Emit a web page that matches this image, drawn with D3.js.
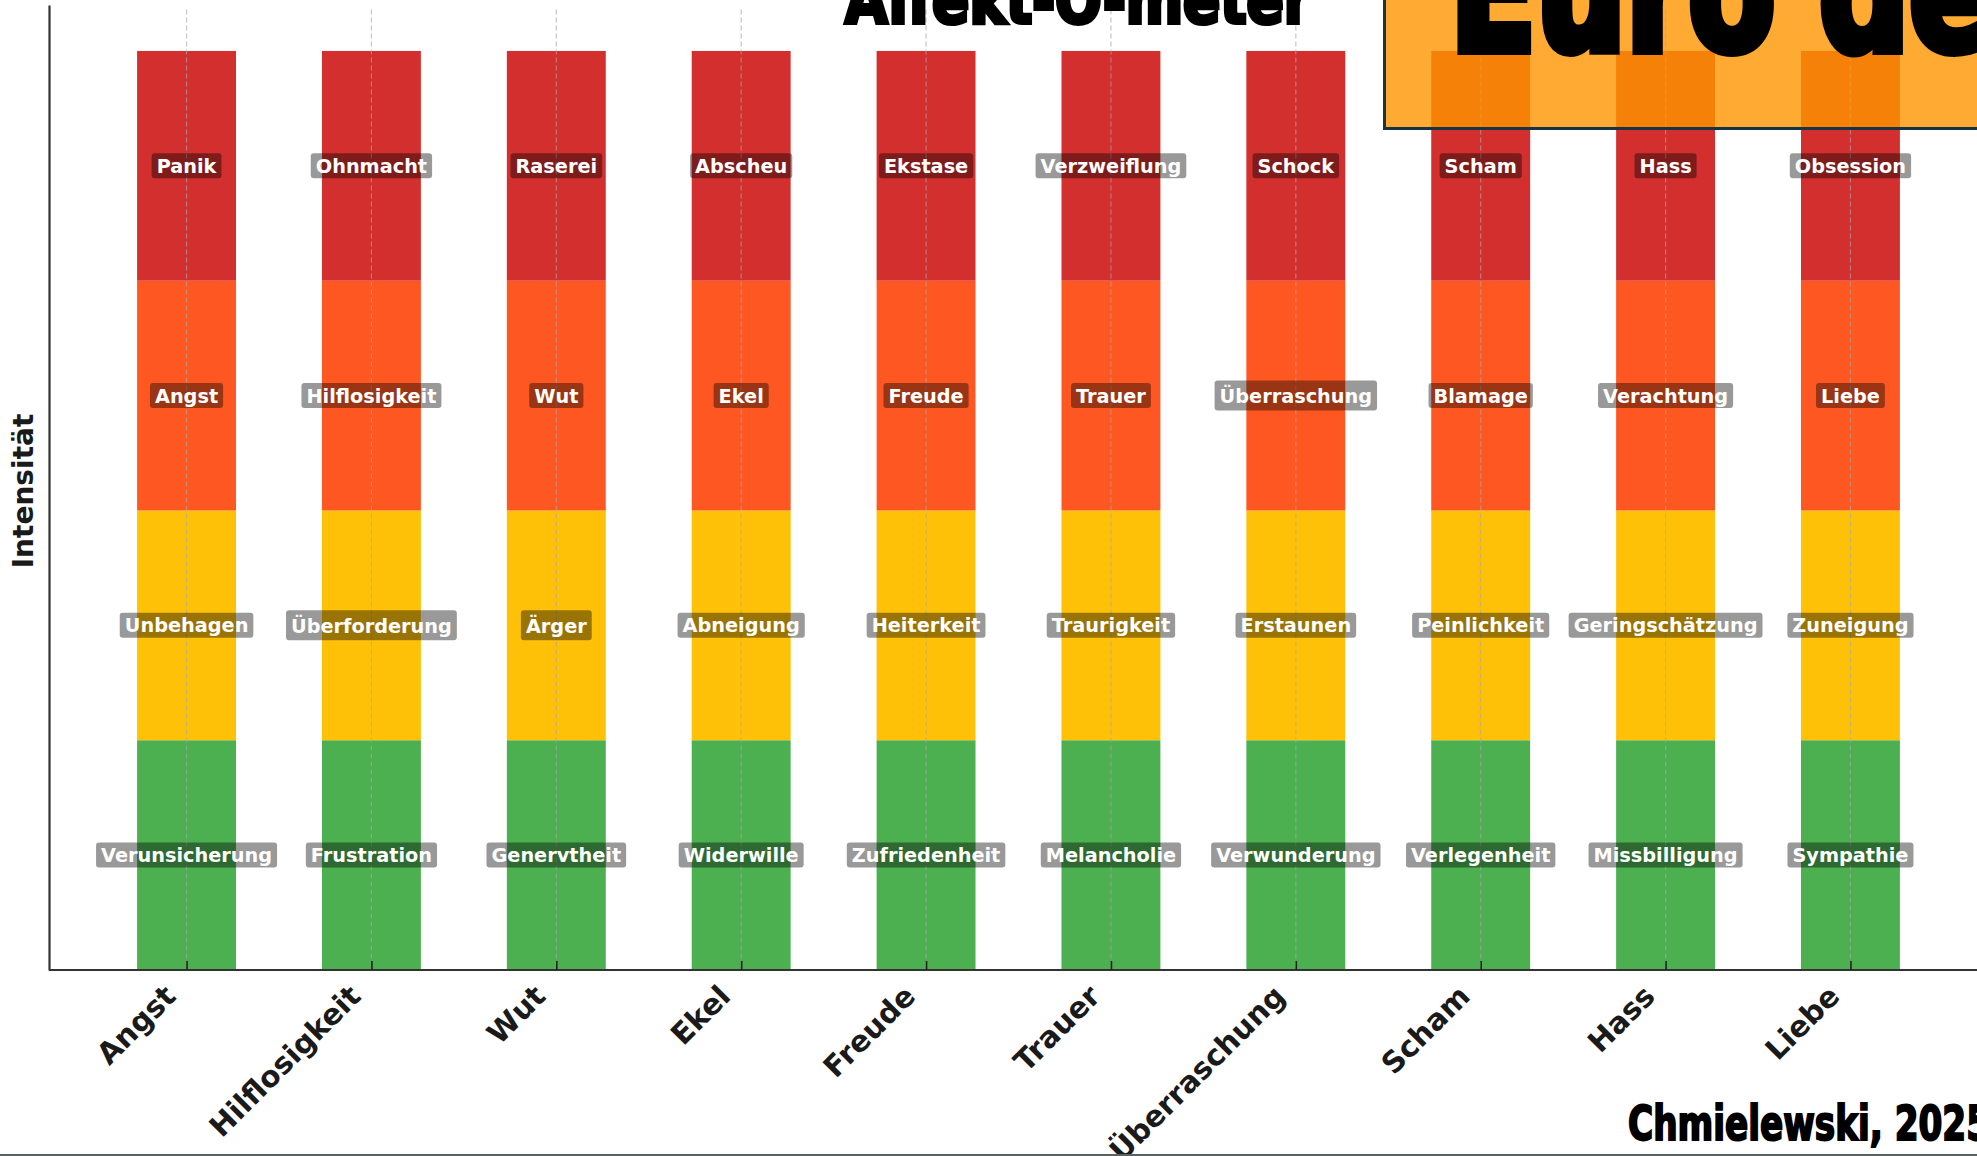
<!DOCTYPE html>
<html><head><meta charset="utf-8">
<script src="https://cdn.jsdelivr.net/npm/d3@7"></script>
<style>
html,body{margin:0;padding:0;background:#fff;overflow:hidden;}
svg{display:block;}
</style></head>
<body>
<svg id="chart" width="1977" height="1156"></svg>
<script>
// ---- data ----
const categories = ["Angst","Hilflosigkeit","Wut","Ekel","Freude","Trauer","Überraschung","Scham","Hass","Liebe"];
const level1Labels = ["Verunsicherung","Frustration","Genervtheit","Widerwille","Zufriedenheit","Melancholie","Verwunderung","Verlegenheit","Missbilligung","Sympathie"];
const level2Labels = ["Unbehagen","Überforderung","Ärger","Abneigung","Heiterkeit","Traurigkeit","Erstaunen","Peinlichkeit","Geringschätzung","Zuneigung"];
const level3Labels = ["Angst","Hilflosigkeit","Wut","Ekel","Freude","Trauer","Überraschung","Blamage","Verachtung","Liebe"];
const level4Labels = ["Panik","Ohnmacht","Raserei","Abscheu","Ekstase","Verzweiflung","Schock","Scham","Hass","Obsession"];
const levelValues = [1, 1, 1, 1];
const levelColors = ["#4CAF50", "#FFC107", "#FF5722", "#D32F2F"];
const yAxisLabel = "Intensität";
const titleText = "Affekt-O-meter";
const bannerText = "Euro de";
const creditText = "Chmielewski, 2025";

const levelLabels = [level1Labels, level2Labels, level3Labels, level4Labels];

// ---- layout ----
const svg = d3.select("#chart");
const barWidth = 0.535;
const x = d3.scaleLinear().domain([-0.744, 9.744]).range([49, 1988]);
const y = d3.scaleLinear().domain([0, 4.2]).range([970, 5]);

// stacked segments
const segments = [];
categories.forEach((c, i) => {
  let base = 0;
  levelValues.forEach((v, l) => {
    segments.push({i, l, y0: base, y1: base + v, label: levelLabels[l][i], color: levelColors[l]});
    base += v;
  });
});

const gBars = svg.append("g");
gBars.selectAll("rect").data(segments).join("rect")
  .attr("x", d => x(d.i - barWidth / 2))
  .attr("width", d => x(d.i + barWidth / 2) - x(d.i - barWidth / 2))
  .attr("y", d => y(d.y1))
  .attr("height", d => y(d.y0) - y(d.y1))
  .attr("fill", d => d.color);

// grid
svg.append("g").selectAll("line").data(categories).join("line")
  .attr("x1", (d, i) => x(i)).attr("x2", (d, i) => x(i))
  .attr("y1", y(4.18)).attr("y2", y(0))
  .attr("stroke", "#a8a8a8").attr("stroke-opacity", 0.65)
  .attr("stroke-width", 1.2).attr("stroke-dasharray", "5,3");

// segment labels
const gLab = svg.append("g");
const lab = gLab.selectAll("g").data(segments).join("g")
  .attr("transform", d => `translate(${x(d.i)},${y((d.y0 + d.y1) / 2)})`);
lab.append("text")
  .attr("text-anchor", "middle")
  .attr("y", d => /[ÄÖÜ]/.test(d.label) ? 7.5 : 7)
  .attr("font-family", "DejaVu Sans")
  .attr("font-weight", "bold")
  .attr("font-size", 19.3)
  .attr("fill", "#fff")
  .text(d => d.label);
lab.each(function(d) {
  const g = d3.select(this);
  const w = g.select("text").node().getComputedTextLength();
  const h = /[ÄÖÜ]/.test(d.label) ? 30 : 25;
  g.insert("rect", "text")
    .attr("x", -w / 2 - 5).attr("width", w + 10)
    .attr("y", -h / 2).attr("height", h)
    .attr("rx", 3).attr("ry", 3)
    .attr("fill", "#000").attr("fill-opacity", 0.4);
});

// x axis
const xAxis = d3.axisBottom(x)
  .tickValues(d3.range(categories.length))
  .tickFormat(i => categories[i])
  .tickSizeInner(-9).tickSizeOuter(0);
const gx = svg.append("g").attr("transform", `translate(0,${y(0)})`).call(xAxis);
gx.select(".domain").attr("stroke", "#333").attr("stroke-width", 2.2).attr("d", `M${x.range()[0]},0H1977`);
gx.selectAll(".tick line").attr("stroke", "#222").attr("stroke-width", 1.6);
gx.selectAll(".tick text")
  .attr("x", 0).attr("y", 0).attr("dy", null)
  .attr("text-anchor", "end")
  .attr("transform", "translate(-9.5,28) rotate(-45)")
  .attr("font-family", "DejaVu Sans").attr("font-weight", "bold")
  .attr("font-size", 29.5).attr("fill", "#1a1a1a");

// y axis
const yAxis = d3.axisLeft(y).tickValues([]).tickSizeOuter(0);
const gy = svg.append("g").attr("transform", `translate(${x.range()[0]},0)`).call(yAxis);
gy.select(".domain").attr("stroke", "#333").attr("stroke-width", 2.2);
svg.append("text")
  .attr("transform", "translate(33,491) rotate(-90)")
  .attr("text-anchor", "middle")
  .attr("font-family", "DejaVu Sans").attr("font-weight", "bold")
  .attr("font-size", 28).attr("fill", "#1a1a1a")
  .text(yAxisLabel);

// title (cropped at top)
svg.append("text")
  .attr("x", 845).attr("y", 23)
  .attr("textLength", 466).attr("lengthAdjust", "spacingAndGlyphs")
  .attr("font-family", "Liberation Sans Narrow, DejaVu Sans Condensed, sans-serif")
  .attr("font-weight", "bold").attr("font-size", 66)
  .attr("fill", "#000").attr("stroke", "#000").attr("stroke-width", 4)
  .text(titleText);

// orange banner top right
svg.append("rect")
  .attr("x", 1384.5).attr("y", -20).attr("width", 700).attr("height", 148.5)
  .attr("fill", "rgb(255,150,0)").attr("fill-opacity", 0.8)
  .attr("stroke", "#173447").attr("stroke-width", 3);
svg.append("text")
  .attr("x", 1450).attr("y", 50)
  .attr("textLength", 545).attr("lengthAdjust", "spacingAndGlyphs")
  .attr("font-family", "Liberation Sans Narrow, DejaVu Sans Condensed, sans-serif")
  .attr("font-weight", "bold").attr("font-size", 170)
  .attr("fill", "#000").attr("stroke", "#000").attr("stroke-width", 10)
  .text(bannerText);

// credit bottom right
svg.append("text")
  .attr("x", 1628).attr("y", 1140)
  .attr("textLength", 362).attr("lengthAdjust", "spacingAndGlyphs")
  .attr("font-family", "Liberation Sans Narrow, DejaVu Sans Condensed, sans-serif")
  .attr("font-weight", "bold").attr("font-size", 48)
  .attr("fill", "#000").attr("stroke", "#000").attr("stroke-width", 2)
  .text(creditText);

// bottom frame line
svg.append("rect").attr("x", 0).attr("y", 1154).attr("width", 1977).attr("height", 2).attr("fill", "#5a6262");
</script>
</body></html>
